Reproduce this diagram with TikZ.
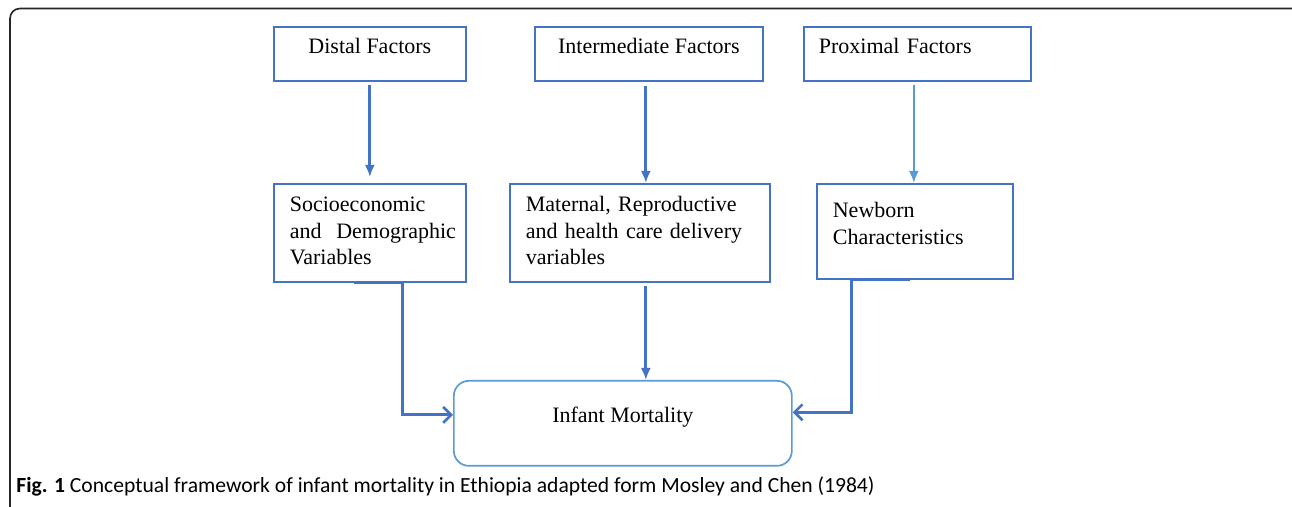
\documentclass[tikz,border=0pt]{standalone}
\usepackage{fontspec}
\setmainfont{Liberation Serif}
\newfontfamily\captionfont{Carlito}
\usetikzlibrary{positioning, arrows, arrows.meta}
\definecolor{boxblue}{HTML}{4472C4}
\definecolor{lightblue}{HTML}{5B9BD5}

\begin{document}
\begin{tikzpicture}[x=0.5pt, y=-0.5pt,
    factor/.style={draw=boxblue, line width=0.85pt, rectangle, anchor=north west, inner sep=0pt, font=\fontsize{11}{13.25}\selectfont},
    flow/.style={draw=boxblue, line width=1.4pt, -{Latex[length=6pt, width=5pt]}},
    elbow/.style={draw=boxblue, line width=1.4pt, -{Straight Barb[length=4pt, width=8pt, line width=1.3pt]}}]
    \useasboundingbox (0,0) rectangle (1292,507);
    \clip (0,0) rectangle (1292,507);
    % Frame round the figure
    \draw[black!85, line width=0.8pt, rounded corners=5pt] (10,8.5) rectangle (1302,540);

    % Define nodes
    \node[factor, minimum width=96pt, text height=13.5pt, text depth=13.5pt] (Distal) at (273,26) {Distal Factors};
    \node[factor, minimum width=114pt, text height=13.5pt, text depth=13.5pt] (Inter) at (534,26) {Intermediate Factors};
    \node[factor, inner xsep=7.5pt, text width=98.5pt, align=left, text height=13.5pt, text depth=13.5pt] (Prox) at (803,26) {Proximal Factors};

    \node[factor, inner xsep=8pt, text width=80pt, align=left, text height=14pt, text depth=35pt] (Socio) at (273,183) {Socioeconomic\\\mbox{and\ \ Demographic}\\Variables};
    \node[factor, inner xsep=8pt, text width=114pt, align=left, text height=14pt, text depth=35pt] (Maternal) at (509,183) {Maternal, Reproductive\\and health care delivery\\variables};
    \node[factor, inner xsep=8pt, text width=82pt, align=left, text height=17pt, text depth=30.5pt] (Newborn) at (816,183) {Newborn\\Characteristics};

    \node[factor, draw=lightblue, rounded corners=7.5pt, minimum width=169pt, text height=21pt, text depth=21.5pt] (Infant) at (453,380) {Infant Mortality};

    \node[anchor=base west, inner sep=0pt, font=\captionfont\fontsize{10.8}{13}\selectfont] (Caption) at (16,493) {\textbf{Fig. 1} Conceptual framework of infant mortality in Ethiopia adapted form Mosley and Chen (1984)};

    % Arrows from the factors to their variables
    \draw[flow, shorten >=3pt] ([yshift=-1.5pt]Distal.south) -- (Distal.south |- Socio.north);
    \draw[flow] ([xshift=-1.5pt, yshift=-2pt]Inter.south) -- ([xshift=-1.5pt]Inter.south |- Maternal.north);
    \draw[flow, draw=lightblue, line width=1.1pt] ([xshift=-1.75pt, yshift=-1.5pt]Prox.south) -- ([xshift=-1.75pt]Prox.south |- Newborn.north);

    % Arrows from the variables to infant mortality
    \draw[elbow] ([xshift=-8pt]Socio.south) -- ([xshift=16.5pt]Socio.south) |- ([yshift=4.25pt]Infant.west);
    \draw[flow] ([xshift=3pt, yshift=-1.5pt]Maternal.south) -- ([xshift=3pt]Maternal.south |- Infant.north);
    \draw[elbow] ([xshift=-2.5pt]Newborn.south) -- ([xshift=-31.5pt]Newborn.south) |- ([yshift=5.5pt]Infant.east);
\end{tikzpicture}
\end{document}
